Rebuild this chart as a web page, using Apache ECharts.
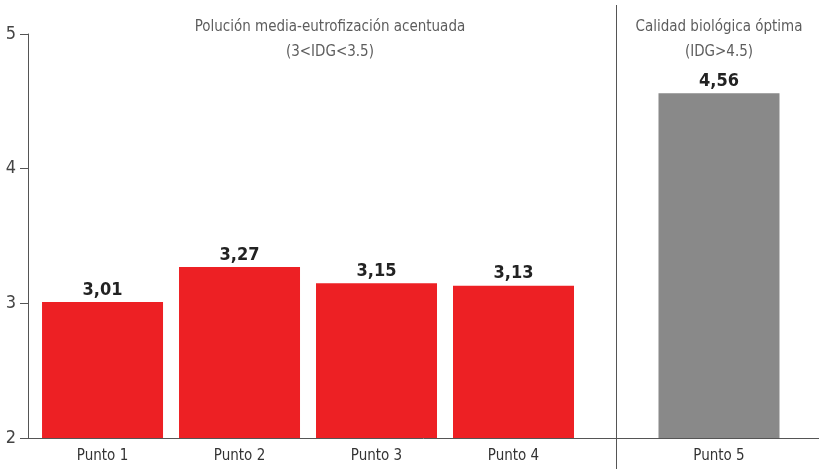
<!DOCTYPE html>
<html><head><meta charset="utf-8">
<script src="https://cdn.jsdelivr.net/npm/echarts@6/dist/echarts.min.js"></script>
<style>html,body{margin:0;padding:0;background:#fff}#c{width:819px;height:469px}</style>
</head><body><div id="c"></div>
<script>
var categories = ['Punto 1', 'Punto 2', 'Punto 3', 'Punto 4', 'Punto 5'];
var positions = [1, 2, 3, 4, 5.5];
var values = [3.01, 3.27, 3.15, 3.13, 4.56];
var barColors = ['#ED2024', '#ED2024', '#ED2024', '#ED2024', '#898989'];
var yTicks = [2, 3, 4, 5];
var separatorAt = 4.75;
var groupNotes = [
  { x: 2.66, lines: ['Polución media-eutrofización acentuada', '(3<IDG<3.5)'] },
  { x: 5.5, lines: ['Calidad biológica óptima', '(IDG>4.5)'] }
];

var FONT = "'DejaVu Sans Condensed', 'Liberation Sans Narrow', sans-serif";
var xMin = 0.456, xMax = 6.23;

var chart = echarts.init(document.getElementById('c'));
var data = values.map(function (v, i) {
  return { value: [positions[i], v], itemStyle: { color: barColors[i] } };
});
var option = {
  animation: false,
  grid: [
    { left: 28, right: 0, top: 34, bottom: 31 },
    { left: 28, right: 0, top: 5, bottom: 0 }
  ],
  xAxis: [{
    type: 'value', gridIndex: 0, min: xMin, max: xMax,
    splitLine: { show: false },
    axisLine: { show: true, lineStyle: { color: '#555', width: 1 } },
    axisTick: { show: false },
    axisLabel: {
      customValues: positions,
      formatter: function (v) { var i = positions.indexOf(v); return i >= 0 ? categories[i] : ''; },
      fontFamily: FONT, fontSize: 15, color: '#333', margin: 11
    }
  }, {
    type: 'value', gridIndex: 1, min: xMin, max: xMax, show: false
  }],
  yAxis: [{
    type: 'value', gridIndex: 0, min: 2, max: 5, interval: 1,
    splitLine: { show: false },
    axisLine: { show: true, lineStyle: { color: '#555', width: 1 } },
    axisTick: { show: true, length: 8, lineStyle: { color: '#555' } },
    axisLabel: {
      customValues: yTicks,
      fontFamily: FONT, fontSize: 18, color: '#444', margin: 12
    }
  }, {
    type: 'value', gridIndex: 1, min: 0, max: 1, show: false
  }],
  series: [{
    type: 'bar', xAxisIndex: 0, yAxisIndex: 0,
    barWidth: 121, data: data,
    label: {
      show: true, position: 'top', distance: 3,
      fontFamily: FONT, fontSize: 18, fontWeight: 'bold', color: '#222',
      formatter: function (p) { return p.value[1].toFixed(2).replace('.', ','); }
    }
  }, {
    type: 'line', xAxisIndex: 1, yAxisIndex: 1, data: [], symbol: 'none',
    markLine: {
      silent: true, symbol: 'none', label: { show: false },
      lineStyle: { color: '#555', width: 1, type: 'solid' },
      data: [{ xAxis: separatorAt }]
    }
  }, {
    type: 'scatter', xAxisIndex: 0, yAxisIndex: 0, symbolSize: 0,
    data: groupNotes.map(function (g) { return { value: [g.x, 5], name: g.lines.join('\n') }; }),
    label: {
      show: true, position: 'inside', offset: [0, 6],
      formatter: function (p) { return p.name; },
      fontFamily: FONT, fontSize: 15, color: '#333', lineHeight: 25, align: 'center'
    }
  }]
};
chart.setOption(option);
</script></body></html>
